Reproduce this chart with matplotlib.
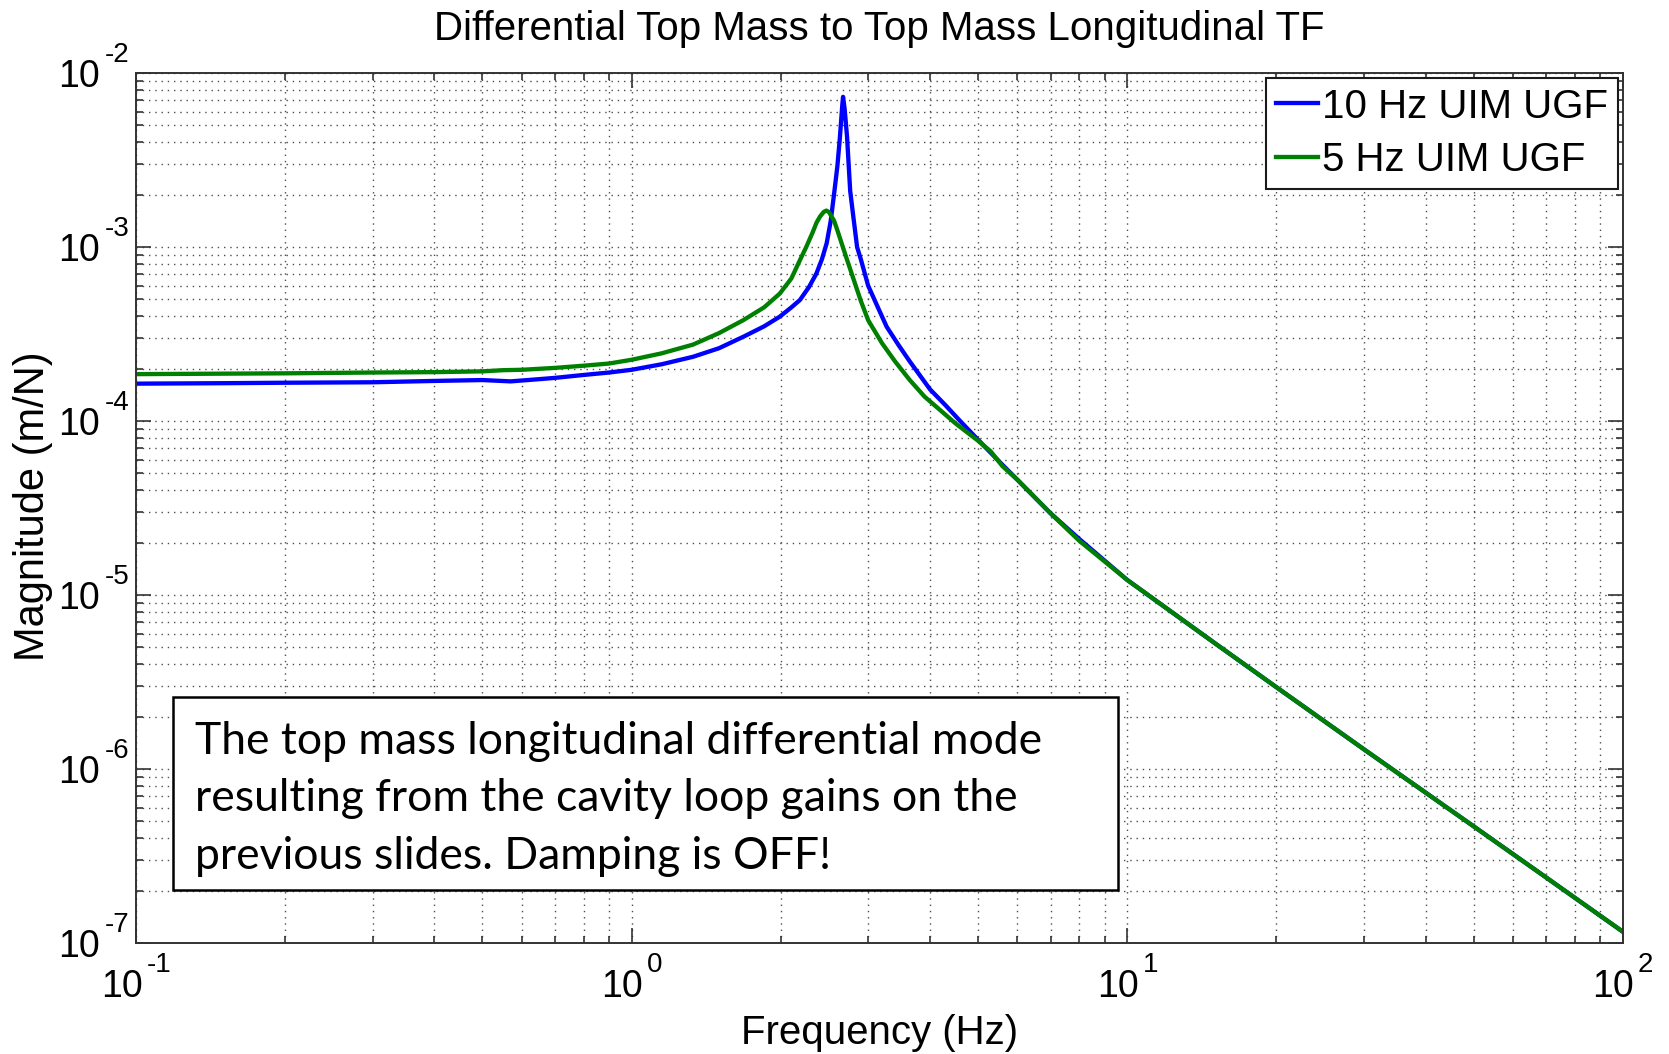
import numpy as np
import matplotlib.pyplot as plt
from matplotlib.ticker import LogLocator, NullFormatter
from matplotlib.patches import Rectangle

plt.rcParams['font.family'] = 'Liberation Sans'

# Transfer function magnitude, 10 Hz UIM UGF
freq_blue = [0.1, 0.15, 0.2, 0.3, 0.4, 0.5, 0.57, 0.65, 0.7, 0.8, 0.9, 1.0,
             1.15, 1.33, 1.5, 1.68, 1.85, 1.99, 2.1, 2.185, 2.28, 2.36, 2.42,
             2.474, 2.52, 2.56, 2.6, 2.63, 2.66, 2.67, 2.69, 2.72, 2.76, 2.8,
             2.85, 2.9, 3.0, 3.15, 3.27, 3.45, 3.64, 4.0, 4.3, 4.6, 5.0, 5.6,
             6.0, 7.0, 8.0, 10, 15, 20, 30, 50, 70, 100]
mag_blue = [1.64e-4, 1.65e-4, 1.66e-4, 1.67e-4, 1.70e-4, 1.72e-4, 1.69e-4,
            1.74e-4, 1.77e-4, 1.84e-4, 1.90e-4, 1.97e-4, 2.12e-4, 2.34e-4,
            2.62e-4, 3.05e-4, 3.5e-4, 3.98e-4, 4.5e-4, 4.96e-4, 5.9e-4,
            7.06e-4, 8.5e-4, 1.05e-3, 1.4e-3, 2.0e-3, 2.9e-3, 4.2e-3, 6.5e-3,
            7.3e-3, 6.2e-3, 4.3e-3, 2.1e-3, 1.5e-3, 1.0e-3, 8.5e-4, 6.0e-4,
            4.4e-4, 3.48e-4, 2.75e-4, 2.2e-4, 1.52e-4, 1.23e-4, 1.0e-4,
            7.8e-5, 5.6e-5, 4.6e-5, 2.95e-5, 2.1e-5, 1.22e-5, 5.3e-6, 2.95e-6,
            1.3e-6, 4.68e-7, 2.38e-7, 1.16e-7]

# Transfer function magnitude, 5 Hz UIM UGF
freq_green = [0.1, 0.2, 0.3, 0.4, 0.5, 0.55, 0.6, 0.7, 0.8, 0.9, 1.0, 1.15,
              1.33, 1.5, 1.68, 1.85, 1.99, 2.1, 2.185, 2.25, 2.32, 2.36, 2.4,
              2.44, 2.47, 2.5, 2.53, 2.56, 2.6, 2.7, 2.8, 2.9, 3.0, 3.2, 3.4,
              3.64, 3.9, 4.2, 4.5, 5.0, 5.3, 5.6, 6.0, 7.0, 8.0, 10, 15, 20,
              30, 50, 70, 100]
mag_green = [1.86e-4, 1.88e-4, 1.90e-4, 1.91e-4, 1.93e-4, 1.96e-4, 1.97e-4,
             2.02e-4, 2.08e-4, 2.14e-4, 2.25e-4, 2.45e-4, 2.75e-4, 3.2e-4,
             3.8e-4, 4.5e-4, 5.4e-4, 6.6e-4, 8.4e-4, 1.0e-3, 1.22e-3, 1.38e-3,
             1.5e-3, 1.59e-3, 1.62e-3, 1.59e-3, 1.5e-3, 1.42e-3, 1.25e-3,
             9.0e-4, 6.6e-4, 4.9e-4, 3.8e-4, 2.8e-4, 2.2e-4, 1.72e-4, 1.38e-4,
             1.15e-4, 9.7e-5, 7.7e-5, 6.7e-5, 5.5e-5, 4.6e-5, 2.95e-5,
             2.05e-5, 1.22e-5, 5.3e-6, 2.95e-6, 1.3e-6, 4.68e-7, 2.38e-7,
             1.16e-7]

x_decades = [-1, 0, 1, 2]
y_decades = [-7, -6, -5, -4, -3, -2]

note_lines = ["The top mass longitudinal differential mode",
              "resulting from the cavity loop gains on the",
              "previous slides. Damping is OFF!"]

fig = plt.figure(figsize=(16.69, 10.54), dpi=100)
ax = fig.add_axes([0.0815, 0.1053, 0.8909, 0.8254])

ax.loglog(freq_blue, mag_blue, color=(0, 0, 1), lw=3.1, label='10 Hz UIM UGF')
ax.loglog(freq_green, mag_green, color=(0, 0.5, 0), lw=3.1, label='5 Hz UIM UGF')
ax.set_xlim(0.1, 100)
ax.set_ylim(1e-7, 1e-2)

# matlab style ticks and dotted grid
for axis in (ax.xaxis, ax.yaxis):
    axis.set_major_locator(LogLocator(base=10, numticks=12))
    axis.set_minor_locator(LogLocator(base=10, subs=np.arange(2, 10), numticks=100))
    axis.set_major_formatter(NullFormatter())
    axis.set_minor_formatter(NullFormatter())

ax.grid(which='both', color='0.3', linestyle=(0, (1, 3.5)), linewidth=1.0)
ax.tick_params(which='both', direction='in', top=True, right=True,
               width=1.2, color='0.2')
ax.tick_params(which='major', length=11)
ax.tick_params(which='minor', length=5)
for s in ax.spines.values():
    s.set_linewidth(1.4)
    s.set_color('0.2')

# decade labels as "10" with a raised exponent
renderer = fig.canvas.get_renderer()
for e in x_decades:
    base = ax.annotate('10', xy=(10.0 ** e, 0), xycoords=('data', 'axes fraction'),
                       xytext=(0, -54), textcoords='offset pixels',
                       ha='left', va='baseline', fontsize=27)
    sup = ax.annotate('%d' % e, xy=(10.0 ** e, 0), xycoords=('data', 'axes fraction'),
                      xytext=(0, -29), textcoords='offset pixels',
                      ha='left', va='baseline', fontsize=20)
    wb = base.get_window_extent(renderer).width
    we = sup.get_window_extent(renderer).width
    left = -(wb + 4 + we) / 2
    base.xyann = (left, -54)
    sup.xyann = (left + wb + 4, -29)

for e in y_decades:
    ax.annotate('10', xy=(0, 10.0 ** e), xycoords=('axes fraction', 'data'),
                xytext=(-36, -14), textcoords='offset pixels',
                ha='right', va='baseline', fontsize=27)
    ax.annotate('%d' % e, xy=(0, 10.0 ** e), xycoords=('axes fraction', 'data'),
                xytext=(-31, 11), textcoords='offset pixels',
                ha='left', va='baseline', fontsize=20)

ax.set_title('Differential Top Mass to Top Mass Longitudinal TF', fontsize=29, pad=24)
ax.set_xlabel('Frequency (Hz)', fontsize=29)
ax.set_ylabel('Magnitude (m/N)', fontsize=30)
ax.xaxis.set_label_coords(0.5, -0.082)
ax.yaxis.set_label_coords(-0.056, 0.502)

leg = ax.legend(loc='upper right', fontsize=29, handlelength=1.05,
                handletextpad=0.1, borderaxespad=0.12, borderpad=0.24,
                labelspacing=0.38, fancybox=False, framealpha=1)
leg.get_frame().set_edgecolor('0.1')
leg.get_frame().set_linewidth(1.5)

# note box
ax.add_patch(Rectangle((0.0249, 0.0609), 0.6355, 0.2219, transform=ax.transAxes,
                       facecolor='white', edgecolor='black', lw=1.8, zorder=5))
for line, yb in zip(note_lines, [0.2172, 0.1517, 0.0851]):
    ax.text(0.0397, yb, line, transform=ax.transAxes, family='Lato',
            fontsize=32, va='baseline', ha='left', zorder=6)

fig.savefig('out.png', dpi=100, facecolor='white')
